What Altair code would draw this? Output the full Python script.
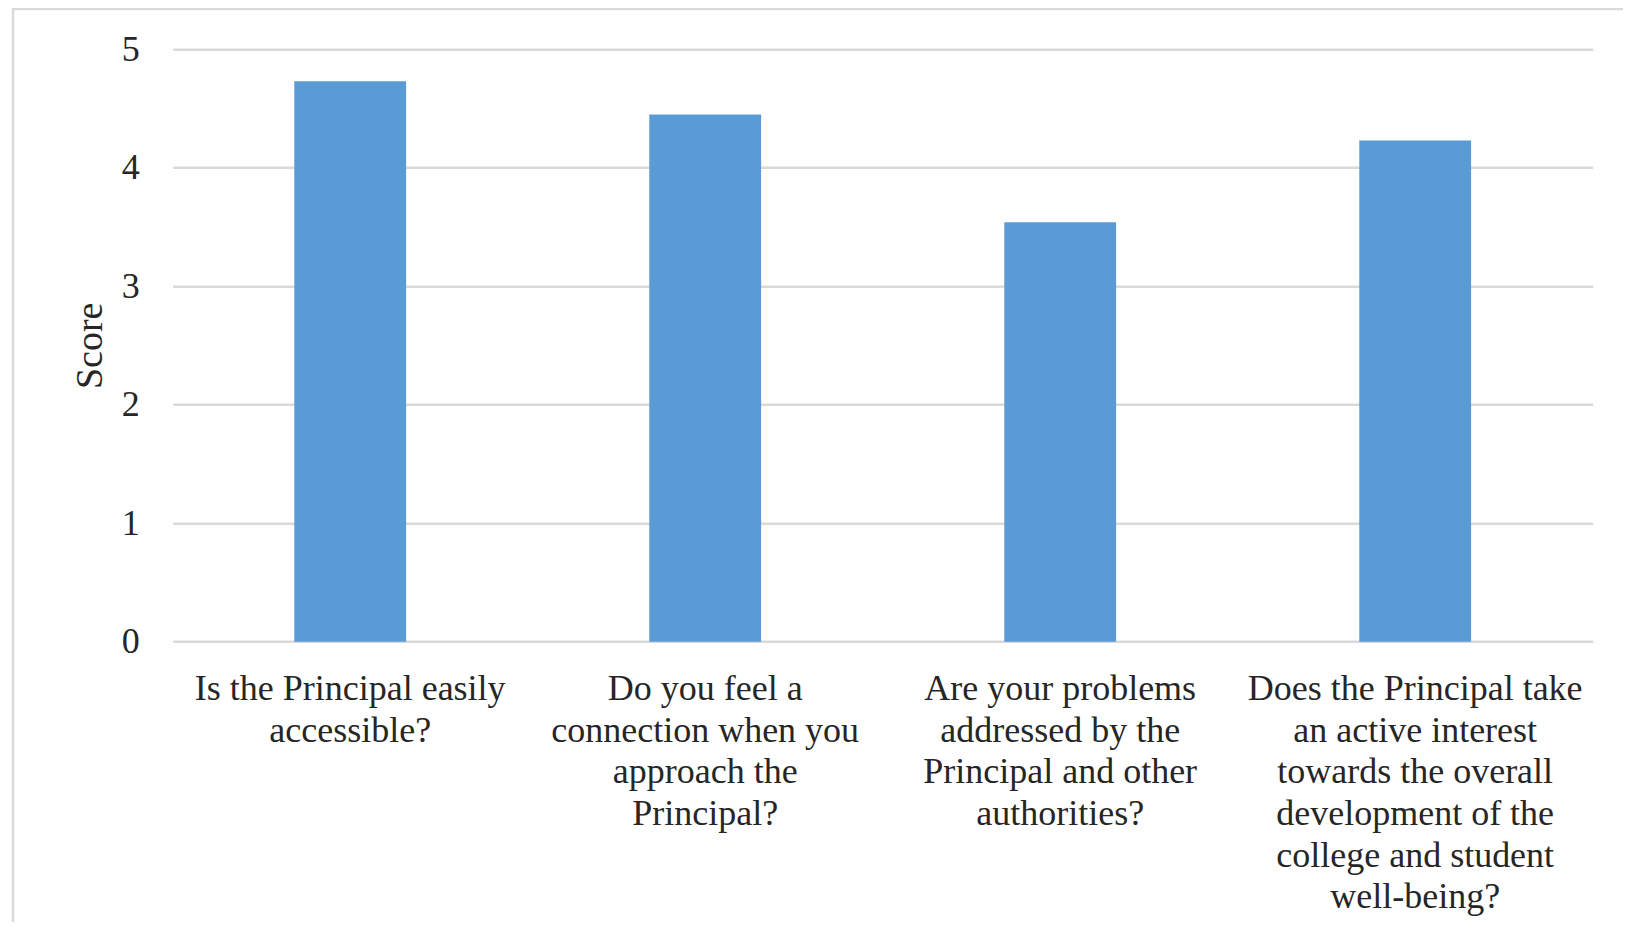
import altair as alt
import pandas as pd

# --- data -------------------------------------------------------------
questions = [
    "Is the Principal easily accessible?",
    "Do you feel a connection when you approach the Principal?",
    "Are your problems addressed by the Principal and other authorities?",
    "Does the Principal take an active interest towards the overall development of the college and student well-being?",
]
label_lines = [
    "Is the Principal easily|accessible?",
    "Do you feel a|connection when you|approach the|Principal?",
    "Are your problems|addressed by the|Principal and other|authorities?",
    "Does the Principal take|an active interest|towards the overall|development of the|college and student|well-being?",
]
scores = [4.73, 4.45, 3.54, 4.23]
y_ticks = [0, 1, 2, 3, 4, 5]

df = pd.DataFrame({"question": questions, "label": label_lines, "score": scores})

FONT = "Liberation Serif"
TEXT = "#262626"

PAD_L, PAD_T, PAD_R, PAD_B = 164.7, 41.3, 30, 280
W, H = 1420, 592.4

border = alt.Chart(alt.Data(values=[{"a": 1}])).mark_rect(
    fill=None, stroke="#d9d9d9", strokeWidth=2.5
).encode(
    x=alt.value(-159.7),
    x2=alt.value(1700),
    y=alt.value(-40.3),
    y2=alt.value(1000),
)

bars = alt.Chart(df).mark_bar(color="#5B9BD5").encode(
    x=alt.X(
        "label:N",
        sort=label_lines,
        scale=alt.Scale(paddingInner=0.685, paddingOuter=0.3425),
        axis=alt.Axis(
            title=None,
            labelAngle=0,
            labelExpr="split(datum.label, '|')",
            labelFont=FONT,
            labelFontSize=36,
            labelColor=TEXT,
            labelLineHeight=41.6,
            labelPadding=30,
            labelBaseline="top",
            labelAlign="center",
            labelLimit=0,
            ticks=False,
            tickSize=0,
            domain=False,
            grid=False,
        ),
    ),
    y=alt.Y(
        "score:Q",
        scale=alt.Scale(domain=[0, 5], nice=False),
        axis=alt.Axis(
            title="Score",
            titleFont=FONT,
            titleFontSize=38,
            titleFontWeight="normal",
            titleColor=TEXT,
            titleAngle=270,
            titleBaseline="alphabetic",
            titleAlign="center",
            titleX=-71.5,
            titleY=296,
            values=y_ticks,
            labelFont=FONT,
            labelFontSize=36,
            labelColor=TEXT,
            labelPadding=33.4,
            ticks=False,
            tickSize=0,
            domain=False,
            grid=True,
            gridColor="#d9d9d9",
            gridWidth=2.5,
        ),
    ),
)

chart = alt.layer(border, bars).properties(
    width=W,
    height=H,
    padding={"left": PAD_L, "top": PAD_T, "right": PAD_R, "bottom": PAD_B},
    autosize=alt.AutoSizeParams(type="none"),
).configure(
    background="white",
    view=alt.ViewConfig(stroke="transparent", strokeWidth=0),
)

chart.save("out.html", embed_options={"renderer": "svg", "actions": False})
